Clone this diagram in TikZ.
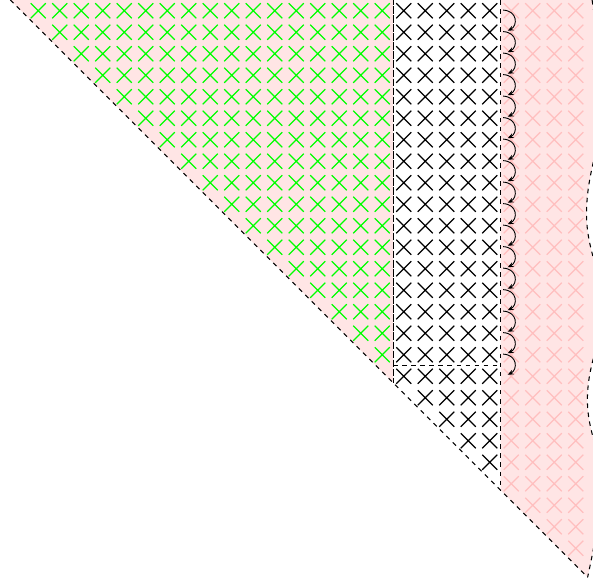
\documentclass[tikz,border=0pt]{standalone}
\usepackage{tikz}
\usetikzlibrary{arrows.meta}

\tikzset{
  cross/.style={line width=0.8pt},
  edge/.style={dashed, line width=0.7pt},
}
% wavy right-hand rim of the light region
\newcommand{\rimpath}{to[out=-82,in=90] (9.68,-4.9) to[out=-90,in=90] (9.0,-9.95)
  to[out=-90,in=90] (9.7,-14.3) to[out=-90,in=90] (9.04,-18.6)
  to[out=-90,in=90] (9.62,-22.3) to[out=-90,in=78] (tip)}

\begin{document}
\begin{tikzpicture}[scale=0.5]
        \useasboundingbox (-18.28,-27.21) rectangle (9.30,0);
        \clip (-18.28,-27.21) rectangle (9.30,0);

        \coordinate (tl) at (-17.8,0);
        \coordinate (top) at (0,0);
        \coordinate (corner) at (0,-17.8);
        \coordinate (lmid) at (0,-17);
        \coordinate (rmid) at (5,-17);
        \coordinate (rtop) at (5,0);
        \coordinate (rcorner) at (5,-22.8);
        \coordinate (wtop) at (9.26,0);
        \coordinate (tip) at (9.05,-26.85);

        % Pink backgrounds
        \fill [red!10] (tl) -- (top) -- (corner) -- cycle;
        \fill [red!10] (rtop) -- (wtop) \rimpath -- (rcorner) -- cycle;

        % Crosses above the diagonal
        \foreach \c in {-18,...,8} {
          \foreach \r in {0,...,26} {
            \pgfmathtruncatemacro\lim{\c+17}
            \ifnum\r>\lim\else
              \ifnum\c<0 \def\xcol{green}\else\ifnum\c<5 \def\xcol{black}\else\def\xcol{red!25}\fi\fi
              \draw [cross, \xcol] (\c+0.15,-\r-0.15) -- (\c+0.85,-\r-0.85)
                                   (\c+0.15,-\r-0.85) -- (\c+0.85,-\r-0.15);
            \fi
          }
        }

        % Boundaries
        \draw [edge] (tl) -- (tip);
        \draw [edge] (top) -- (corner);
        \draw [edge, dash phase=2pt] (top) -- (corner);
        \draw [edge] (rtop) -- (rcorner);
        \draw [edge] (lmid) -- (rmid);
        \draw [edge] (wtop) \rimpath;

        % Curly arrows down the strip
        \foreach \r in {0,...,16}
          \draw [line width=0.6pt, -{Stealth[length=4pt,width=3.2pt]}]
            (5.12,-\r-0.47) .. controls (5.8,-\r-0.5) and (5.8,-\r-1.2) .. (5.33,-\r-1.43);
    \end{tikzpicture}
\end{document}
